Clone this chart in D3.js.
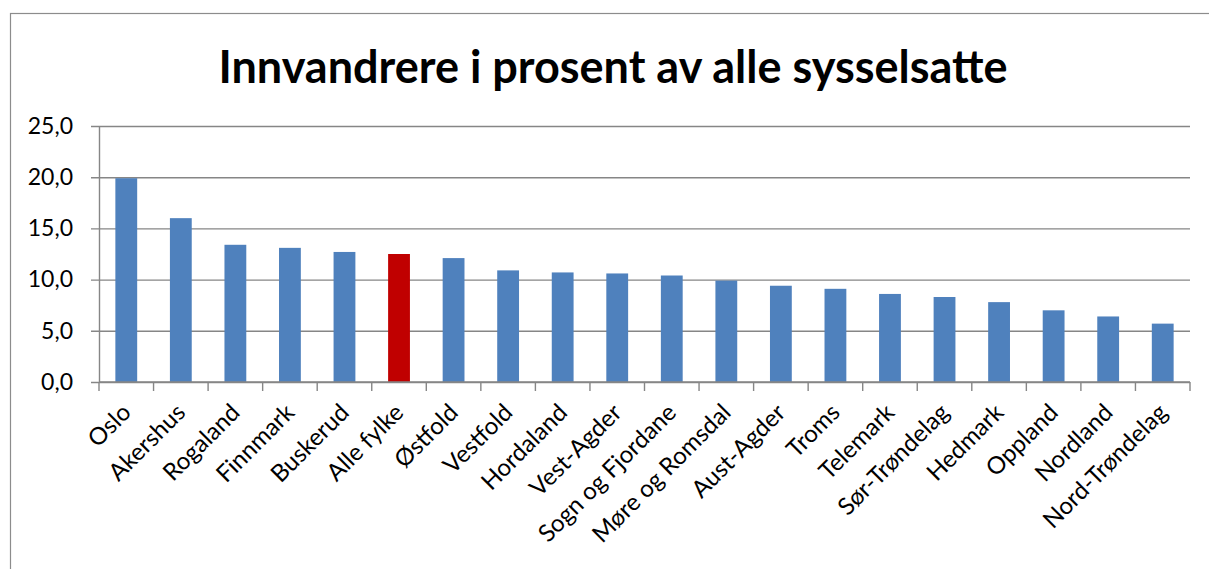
<!DOCTYPE html>
<html>
<head>
<meta charset="utf-8">
<script src="https://cdn.jsdelivr.net/npm/d3@7"></script>
<style>
  body { margin: 0; background: #fff; }
  svg { display: block; font-family: Lato, "Open Sans", sans-serif; }
</style>
</head>
<body>
<svg id="chart" width="1209" height="569"></svg>
<script>
const categories = ["Oslo", "Akershus", "Rogaland", "Finnmark", "Buskerud", "Alle fylke",
  "Østfold", "Vestfold", "Hordaland", "Vest-Agder", "Sogn og Fjordane", "Møre og Romsdal",
  "Aust-Agder", "Troms", "Telemark", "Sør-Trøndelag", "Hedmark", "Oppland", "Nordland",
  "Nord-Trøndelag"];
const values = [19.9, 16.0, 13.4, 13.1, 12.7, 12.5, 12.1, 10.9, 10.7, 10.6, 10.4, 9.9,
  9.4, 9.1, 8.6, 8.3, 7.8, 7.0, 6.4, 5.7];
const highlight = "Alle fylke";
const yTicks = [0, 5, 10, 15, 20, 25];

const svg = d3.select("#chart");
const margin = { left: 99, right: 19, top: 126, bottom: 187 };
const width = 1209, height = 569;

// chart frame
svg.append("rect")
  .attr("x", 10.5).attr("y", 13.5)
  .attr("width", 1220).attr("height", 600)
  .attr("fill", "none").attr("stroke", "#8c8c8c").attr("stroke-width", 1.2);

svg.append("text")
  .attr("x", 613).attr("y", 83)
  .attr("text-anchor", "middle")
  .attr("font-weight", "bold")
  .attr("font-size", 45)
  .text("Innvandrere i prosent av alle sysselsatte");

const x = d3.scaleBand()
  .domain(categories)
  .range([margin.left, width - margin.right])
  .paddingInner(0.6).paddingOuter(0.3);

const y = d3.scaleLinear()
  .domain([0, 25])
  .range([height - margin.bottom, margin.top]);

// gridlines + y axis
const yAxis = svg.append("g")
  .attr("transform", `translate(${margin.left},0)`)
  .call(d3.axisLeft(y)
    .tickValues(yTicks)
    .tickSize(-(width - margin.right - margin.left))
    .tickSizeOuter(0)
    .tickPadding(26)
    .tickFormat(d => d3.format(".1f")(d).replace(".", ",")));
yAxis.select(".domain").attr("stroke", "#868686").attr("stroke-width", 1.4);
yAxis.selectAll(".tick line").attr("stroke", "#868686").attr("stroke-width", 1.4)
  .attr("x1", -8);
yAxis.selectAll(".tick text")
  .attr("font-size", 23).attr("fill", "#000")
  .attr("font-family", "Lato, sans-serif");

// bars
svg.append("g").selectAll("rect")
  .data(categories)
  .join("rect")
  .attr("x", d => x(d))
  .attr("y", (d, i) => y(values[i]))
  .attr("width", x.bandwidth())
  .attr("height", (d, i) => y(0) - y(values[i]))
  .attr("fill", d => d === highlight ? "#C00000" : "#4F81BD");

// x axis: ticks at band boundaries
const step = x.step();
const bounds = d3.range(categories.length + 1).map(i => margin.left + i * step);
const xAxis = svg.append("g");
xAxis.append("line")
  .attr("x1", margin.left).attr("x2", width - margin.right)
  .attr("y1", y(0)).attr("y2", y(0))
  .attr("stroke", "#868686").attr("stroke-width", 1.4);
xAxis.selectAll(".xt")
  .data(bounds)
  .join("line")
  .attr("class", "xt")
  .attr("x1", d => d).attr("x2", d => d)
  .attr("y1", y(0)).attr("y2", y(0) + 9)
  .attr("stroke", "#868686").attr("stroke-width", 1.4);

xAxis.selectAll("text")
  .data(categories)
  .join("text")
  .attr("text-anchor", "end")
  .attr("font-size", 24)
  .attr("transform", d => `translate(${x(d) + x.bandwidth() / 2 + 6},${y(0) + 32}) rotate(-45)`)
  .text(d => d);
</script>
</body>
</html>
